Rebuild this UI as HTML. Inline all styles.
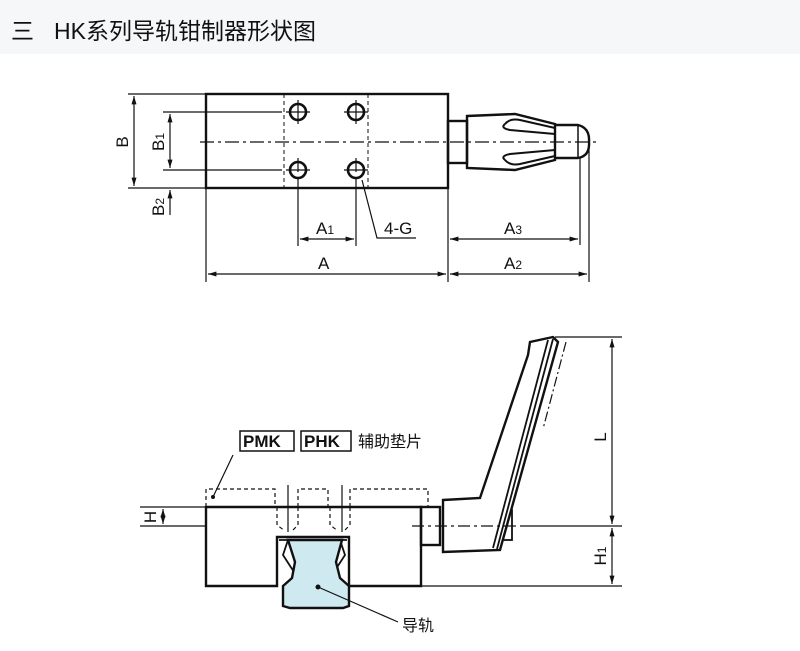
<!DOCTYPE html>
<html><head><meta charset="utf-8"><style>
html,body{margin:0;padding:0;background:#fff;width:800px;height:651px;overflow:hidden}
.hdr{position:absolute;left:0;top:0;width:800px;height:54px;background:#f6f7f9}
.hdr span{position:absolute;top:12px;font-family:"Liberation Sans","Noto Sans CJK SC",sans-serif;font-size:23px;color:#111}
svg{position:absolute;left:0;top:0}
text{font-family:"Liberation Sans","Noto Sans CJK SC",sans-serif;fill:#111}
</style></head><body>
<div class="hdr"><span style="left:11px">三</span><span style="left:54px">HK系列导轨钳制器形状图</span></div>
<svg width="800" height="651" viewBox="0 0 800 651">
<defs><marker id="a" viewBox="0 0 10 10" refX="10" refY="5" markerWidth="7" markerHeight="7" orient="auto-start-reverse"><path d="M0,2 L10,5 L0,8 z" fill="#111"/></marker></defs>
<g stroke="#111" fill="none">
<rect x="206" y="94" width="242" height="94" stroke-width="2.4"/>
<line x1="200" y1="142" x2="598" y2="142" stroke-width="1.2" stroke-dasharray="14,4,3,4"/>
<line x1="284" y1="94" x2="284" y2="188" stroke-dasharray="4,3"/>
<line x1="368" y1="94" x2="368" y2="188" stroke-dasharray="4,3"/>
<g stroke-width="2.6"><circle cx="298" cy="112" r="8"/><circle cx="356" cy="112" r="8"/><circle cx="298" cy="170" r="8"/><circle cx="356" cy="170" r="8"/></g>
<g stroke-width="1.2"><path d="M286 112h24M298 100v24M344 112h24M356 100v24M286 170h24M298 158v14M344 170h24M356 158v14"/></g>
<rect x="448" y="121" width="19" height="42" stroke-width="2.4"/>
<path d="M467 116 L515 114 L555 124 L555 160 L515 170 L467 168 Z" stroke-width="2.4"/>
<path d="M505 124 Q510 118 520 120 L555 128 M505 160 Q510 166 520 164 L555 156 M505 124 Q500 128 510 130 L555 134 M505 160 Q500 156 510 154 L555 150" stroke-width="2"/>
<path d="M555 125 L578 125 Q590 128 589 142 Q590 156 578 158 L555 158" stroke-width="2.4"/>
<line x1="578" y1="125" x2="578" y2="158" stroke-width="1.5"/>
<g stroke-width="1.2">
<path d="M128 94H206M128 188H206M163 112H282M163 170H282"/>
<line x1="134" y1="96" x2="134" y2="186" marker-start="url(#a)" marker-end="url(#a)"/>
<line x1="170" y1="114" x2="170" y2="168" marker-start="url(#a)" marker-end="url(#a)"/>
<line x1="170" y1="215" x2="170" y2="190" marker-end="url(#a)"/>
<path d="M298 178V246M356 178V246M206 188V282M448 170V282M580 158V245M589 140V282"/>
<line x1="300" y1="239" x2="354" y2="239" marker-start="url(#a)" marker-end="url(#a)"/>
<line x1="208" y1="274" x2="446" y2="274" marker-start="url(#a)" marker-end="url(#a)"/>
<line x1="450" y1="274" x2="587" y2="274" marker-start="url(#a)" marker-end="url(#a)"/>
<line x1="450" y1="239" x2="578" y2="239" marker-start="url(#a)" marker-end="url(#a)"/>
<path d="M362 180L377 238H416"/>
</g>
<path d="M206 507H421V586H349V537H277V586H206Z" stroke-width="2.4"/>
<path d="M279 540L288 540L283 555L294 572L294 586M347 540L340 540L345 555L334 572L334 586" stroke-width="1.8"/>
<path d="M288 540H342L336 562L340 578L349 586V606L343 608H290L283 606V586L292 578L295 562Z" fill="#cfe9f0" stroke-width="2.4"/>
<g stroke-width="1.2" stroke-dasharray="4,3">
<path d="M206 507V489H275V507M298 507V489H328V507M350 507V489H428V507"/>
<path d="M277 507V525L285 531M298 507V525L292 531M330 507V525L338 531M350 507V525L344 531"/>
</g>
<path d="M288 485V532M342 485V532" stroke-width="1.2"/>
<rect x="421" y="507" width="19" height="38" stroke-width="2.4"/>
<rect x="500" y="510" width="12" height="30" stroke-width="1.8"/>
<path d="M443 500L480 498L528 355L530 342L553 337L558 342L500 550L443 552Z" stroke-width="2.4" fill="#fff"/>
<path d="M553 339L497 549M548 340L493 548" stroke-width="1.8"/>
<path d="M566 342L543 429" stroke-width="1.2" stroke-dasharray="10,3,2,3"/>
<line x1="412" y1="526" x2="520" y2="526" stroke-width="1.2" stroke-dasharray="12,4,3,4"/>
<g stroke-width="1.2">
<path d="M140 507H206M140 526H206M520 526H622M555 337H622M421 586H622"/>
<line x1="163" y1="509" x2="163" y2="524" marker-start="url(#a)" marker-end="url(#a)"/>
<line x1="612" y1="339" x2="612" y2="524" marker-start="url(#a)" marker-end="url(#a)"/>
<line x1="612" y1="528" x2="612" y2="584" marker-start="url(#a)" marker-end="url(#a)"/>
<path d="M233 455L213 497M318 587L398 622"/>
<rect x="240" y="431" width="54" height="20" stroke-width="1.5"/>
<rect x="301" y="431" width="50" height="20" stroke-width="1.5"/>
</g>
</g>
<circle cx="213" cy="497" r="2" fill="#111"/><circle cx="318" cy="587" r="2.5" fill="#111"/>
<g font-size="17">
<text x="122" y="142" text-anchor="middle" transform="rotate(-90 122 142)" dy="6">B</text>
<text x="158" y="142" text-anchor="middle" transform="rotate(-90 158 142)" dy="6">B<tspan font-size="12">1</tspan></text>
<text x="158" y="207" text-anchor="middle" transform="rotate(-90 158 207)" dy="6">B<tspan font-size="12">2</tspan></text>
<text x="316" y="234">A<tspan font-size="12">1</tspan></text>
<text x="384" y="234">4-G</text>
<text x="318" y="269">A</text>
<text x="504" y="234">A<tspan font-size="12">3</tspan></text>
<text x="504" y="269">A<tspan font-size="12">2</tspan></text>
<text x="150" y="517" text-anchor="middle" transform="rotate(-90 150 517)" dy="6">H</text>
<text x="600" y="437" text-anchor="middle" transform="rotate(-90 600 437)" dy="6">L</text>
<text x="600" y="556" text-anchor="middle" transform="rotate(-90 600 556)" dy="6">H<tspan font-size="12">1</tspan></text>
<text x="243" y="447" font-weight="bold">PMK</text>
<text x="304" y="447" font-weight="bold">PHK</text>
<text x="358" y="447" font-size="16">辅助垫片</text>
<text x="402" y="631" font-size="16">导轨</text>
</g>
</svg>
</body></html>
